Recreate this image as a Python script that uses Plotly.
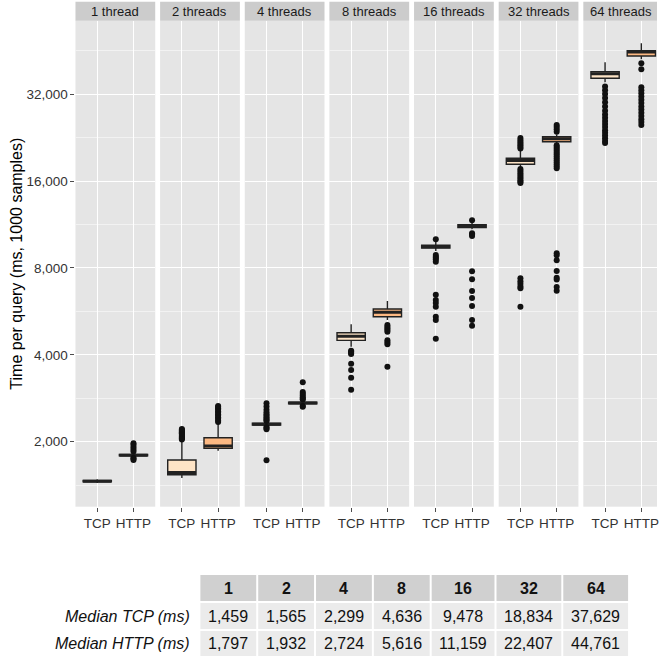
import plotly.graph_objects as go

# ---------------- data ----------------
threads = [1, 2, 4, 8, 16, 32, 64]
strip_labels = ["1 thread", "2 threads", "4 threads", "8 threads", "16 threads", "32 threads", "64 threads"]
protocols = ["TCP", "HTTP"]

tcp_median = [1459, 1565, 2299, 4636, 9478, 18834, 37629]
http_median = [1797, 1932, 2724, 5616, 11159, 22407, 44761]

tcp_q1 = [1452, 1537, 2285, 4490, 9380, 18280, 36300]
tcp_q3 = [1467, 1729, 2316, 4770, 9590, 19176, 38260]
tcp_lower = [1440, 1496, 2270, 4267, 9150, 17900, 35200]
tcp_upper = [1482, 2017, 2345, 5102, 9850, 20520, 41240]

http_q1 = [1788, 1896, 2708, 5421, 11050, 21890, 43350]
http_q3 = [1808, 2064, 2742, 5764, 11300, 22780, 45240]
http_lower = [1775, 1860, 2690, 5280, 10900, 21600, 42300]
http_upper = [1830, 2316, 2770, 6143, 11500, 23200, 48000]

tcp_outliers = [
    [],
    [2035, 2050, 2065, 2080, 2095, 2110, 2125, 2140, 2155, 2170, 2185, 2200, 2213],
    [2717, 2650, 2580, 2530, 2490, 2460, 2430, 2400, 2380, 2360, 2250, 2230, 2210, 1725],
    [4133, 4100, 4060, 4025, 3727, 3543, 3332, 3028],
    [10050, 8866, 8750, 8650, 8550, 8403, 6460, 6193, 6050, 5870, 5420, 5280, 4548],
    [22550, 22200, 21900, 21600, 21300, 21000, 20750,
     17600, 17350, 17100, 16850, 16600, 16350, 16100, 15900, 15750,
     7360, 7200, 7050, 6900, 6800, 5870],
    [34000, 33000, 32000, 31000, 30000, 29000, 28000, 27200, 26500, 25800,
     25200, 24600, 24000, 23500, 23000, 22500, 22000, 21660],
]
http_outliers = [
    [1975, 1950, 1915, 1880, 1850, 1760, 1745, 1730],
    [2340, 2370, 2400, 2430, 2460, 2490, 2520, 2550, 2580, 2610, 2640, 2660],
    [3212, 2973, 2930, 2890, 2850, 2820, 2800, 2660, 2644],
    [5070, 5000, 4930, 4875, 4810, 4490, 4420, 4350, 3638],
    [11700, 10540, 10450, 10320, 7786, 7305, 6653, 6295, 5905, 5280, 5045],
    [25000, 24600, 24200, 23700, 21300, 21000, 20700, 20400, 20100, 19800, 19500,
     19200, 18900, 18600, 18300, 18000, 17720, 9000, 8850, 8510, 7804, 7400, 7300, 6870, 6670],
    [40900, 39000, 33800, 33000, 32200, 31400, 30600, 29800, 29000, 28300,
     27600, 26900, 26200, 25600, 25000],
]

y_tickvals = [2000, 4000, 8000, 16000, 32000]
y_ticktext = ["2,000", "4,000", "8,000", "16,000", "32,000"]
y_minor = [1414, 2828, 5657, 11314, 22627, 45255]

table_row_labels = ["Median TCP (ms)", "Median HTTP (ms)"]

# ---------------- style / layout ----------------
W, H = 659, 658
FONT = "Liberation Sans, Arial, Helvetica, sans-serif"
TCP_FILL = "#FEE4C6"
HTTP_FILL = "#FDB983"
LINE = "#222222"
BOX_W = 0.78

panel_left0, panel_step, panel_w = 75.7, 84.9, 80.0
panel_top, panel_bot = 20.7, 506.7
strip_top = 1.7

def px_x(v):
    return v / W

def px_y(v):
    return 1 - v / H

fig = go.Figure()

layout_axes = {}
shapes = []
annotations = []

for i in range(len(threads)):
    xa = "x" if i == 0 else f"x{i+1}"
    xkey = "xaxis" if i == 0 else f"xaxis{i+1}"
    left = panel_left0 + i * panel_step
    right = min(left + panel_w, W)
    frac = (right - left) / panel_w
    xr = [-0.6, -0.6 + 2.2 * frac]
    layout_axes[xkey] = dict(
        domain=[px_x(left), px_x(right)], anchor="y", range=xr,
        tickvals=[0, 1], ticktext=protocols, showgrid=True,
        gridcolor="white", gridwidth=1.3, zeroline=False,
        ticks="outside", ticklen=4, tickcolor="#4d4d4d",
        tickfont=dict(family=FONT, size=13.5, color="#333333"),
        ticklabeloverflow="allow",
        showline=False, fixedrange=True,
    )
    for j, (q1, med, q3, lo, up, fill, outl) in enumerate([
        (tcp_q1, tcp_median, tcp_q3, tcp_lower, tcp_upper, TCP_FILL, tcp_outliers),
        (http_q1, http_median, http_q3, http_lower, http_upper, HTTP_FILL, http_outliers),
    ]):
        fig.add_trace(go.Box(
            x=[j], q1=[q1[i]], median=[med[i]], q3=[q3[i]],
            lowerfence=[lo[i]], upperfence=[up[i]],
            width=BOX_W, whiskerwidth=0, fillcolor=fill,
            line=dict(color=LINE, width=1.4), boxpoints=False,
            xaxis=xa, yaxis="y", showlegend=False, hoverinfo="skip",
        ))
        fig.add_trace(go.Scatter(
            x=[j - BOX_W / 2, j + BOX_W / 2], y=[med[i], med[i]],
            mode="lines", line=dict(color=LINE, width=3),
            xaxis=xa, yaxis="y", showlegend=False, hoverinfo="skip",
        ))
        if outl[i]:
            fig.add_trace(go.Scatter(
                x=[j] * len(outl[i]), y=outl[i], mode="markers",
                marker=dict(color="#111111", size=6),
                xaxis=xa, yaxis="y", showlegend=False, hoverinfo="skip",
                cliponaxis=False,
            ))
    shapes.append(dict(type="rect", xref="paper", yref="paper",
                       x0=px_x(left), x1=px_x(right), y0=px_y(panel_top), y1=px_y(strip_top),
                       fillcolor="#CCCCCC", line=dict(width=0), layer="below"))
    cx = left + panel_w / 2 if i < len(threads) - 1 else (left + right) / 2 + 1
    annotations.append(dict(text=strip_labels[i], xref="paper", yref="paper",
                            x=px_x(cx), y=px_y((panel_top + strip_top) / 2),
                            showarrow=False, xanchor="center", yanchor="middle",
                            font=dict(family=FONT, size=13, color="#1a1a1a")))

layout_axes["yaxis"] = dict(
    domain=[px_y(panel_bot), px_y(panel_top)], anchor="x", type="log",
    range=[3.0759, 4.7595], tickvals=y_tickvals, ticktext=y_ticktext,
    showgrid=True, gridcolor="white", gridwidth=1.3, zeroline=False,
    ticks="outside", ticklen=4, tickcolor="#4d4d4d",
    tickfont=dict(family=FONT, size=13.5, color="#333333"),
    minor=dict(tickvals=y_minor, showgrid=True, gridcolor="#F2F2F2", gridwidth=0.6, ticks=""),
    fixedrange=True,
)

annotations.append(dict(text="Time per query (ms, 1000 samples)", xref="paper", yref="paper",
                        x=px_x(17), y=px_y((panel_top + panel_bot) / 2), textangle=-90,
                        showarrow=False, xanchor="center", yanchor="middle",
                        font=dict(family=FONT, size=16, color="black")))

# ---------------- table (cells built from the arrays) ----------------
col_edges = [201, 259, 317, 375, 433, 498, 565, 632]
row_edges = [575, 603, 631, 658]
GAP = 2
header_vals = [f"<b>{t}</b>" for t in threads]
body_rows = [[f"{v:,}" for v in tcp_median], [f"{v:,}" for v in http_median]]

for c in range(len(threads)):
    x0, x1 = col_edges[c], col_edges[c + 1] - GAP
    for r in range(3):
        y0, y1 = row_edges[r], row_edges[r + 1] - GAP
        shapes.append(dict(type="rect", xref="paper", yref="paper",
                           x0=px_x(x0), x1=px_x(x1), y0=px_y(y1), y1=px_y(y0),
                           fillcolor="#D0D0D0" if r == 0 else "#EBEBEB",
                           line=dict(width=0), layer="below"))
        txt = header_vals[c] if r == 0 else body_rows[r - 1][c]
        annotations.append(dict(text=txt, xref="paper", yref="paper",
                                x=px_x((x0 + x1) / 2), y=px_y((y0 + y1) / 2),
                                showarrow=False, xanchor="center", yanchor="middle",
                                font=dict(family=FONT, size=16, color="#111111")))
for r, lab in enumerate(table_row_labels):
    y0, y1 = row_edges[r + 1], row_edges[r + 2] - GAP
    annotations.append(dict(text=f"<i>{lab}</i>", xref="paper", yref="paper",
                            x=px_x(193), y=px_y((y0 + y1) / 2),
                            showarrow=False, xanchor="right", yanchor="middle",
                            font=dict(family=FONT, size=16, color="#111111")))

fig.update_layout(
    width=W, height=H, margin=dict(l=0, r=0, t=0, b=0),
    paper_bgcolor="white", plot_bgcolor="#E5E5E5",
    showlegend=False, shapes=shapes, annotations=annotations,
    boxmode="overlay", **layout_axes,
)

fig.write_html("out.html", config={"displayModeBar": False},
               post_script="document.body.style.margin='0';document.body.style.overflow='hidden';")
